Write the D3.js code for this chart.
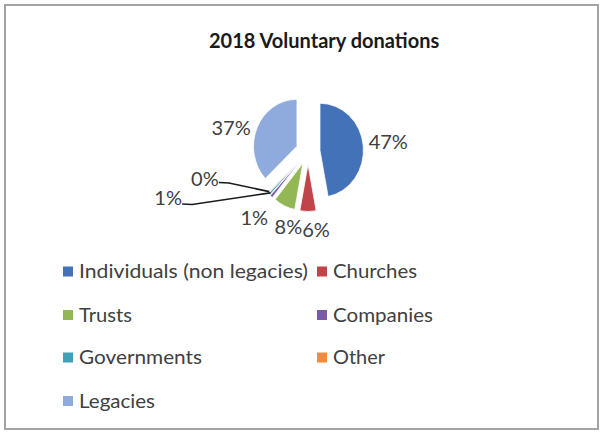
<!DOCTYPE html>
<html>
<head>
<meta charset="utf-8">
<script src="https://cdn.jsdelivr.net/npm/d3@7"></script>
<style>
  html, body { margin: 0; padding: 0; background: #fff; }
  svg { display: block; }
</style>
</head>
<body>
<svg id="chart" width="602" height="432"></svg>
<script>
// Donation sources and their shares (percent) for 2018
const categories = ["Individuals (non legacies)", "Churches", "Trusts", "Companies", "Governments", "Other", "Legacies"];
const shares = [47, 6, 8, 1, 0.7, 0.3, 37];
const colors = ["#4472B9", "#C0444A", "#94B755", "#7A5CA6", "#3FA0B8", "#F08C3A", "#8FAADC"];
const title = "2018 Voluntary donations";

const data = categories.map((c, i) => ({ name: c, value: shares[i], color: colors[i] }));

const svg = d3.select("#chart");
const W = 602, H = 432;

// chart frame
svg.append("rect")
  .attr("x", 5).attr("y", 5).attr("width", 593).attr("height", 424)
  .attr("fill", "#fff").attr("stroke", "#a3a3a3").attr("stroke-width", 2);

// title
svg.append("text")
  .attr("x", 209).attr("y", 48)
  .attr("font-family", "Lato, 'Open Sans', sans-serif")
  .attr("font-weight", "bold")
  .attr("font-size", 20)
  .attr("fill", "#1a1a1a")
  .text(title);

// pie geometry
const cx = 308, cy = 151.5, R = 47, sx = 0.925, explode = 13;
const pie = d3.pie().value(d => d.value).sort(null);
const arcs = pie(data);
const arc = d3.arc().innerRadius(0).outerRadius(R);

const mid = d => (d.startAngle + d.endAngle) / 2;
// point at radius r along the slice's middle angle, including the explosion shift
function slicePoint(d, r) {
  const a = mid(d);
  return [cx + sx * (explode + r) * Math.sin(a), cy - (explode + r) * Math.cos(a)];
}

const pieG = svg.append("g").attr("transform", `translate(${cx},${cy}) scale(${sx},1)`);
pieG.selectAll("path")
  .data(arcs)
  .join("path")
  .attr("transform", d => `translate(${explode * Math.sin(mid(d))},${-explode * Math.cos(mid(d))})`)
  .attr("d", arc)
  .attr("fill", d => d.data.color)
  .attr("stroke", "#fff")
  .attr("stroke-width", 0.8);

// data labels, nudged from the slice's outer edge
const labelNudge = {
  "Individuals (non legacies)": [25, -4.5],
  "Churches": [8, 18.5],
  "Trusts": [4, 21],
  "Companies": [-17, 21.5],
  "Governments": [-101, 3.6],
  "Other": [-63, -14.5],
  "Legacies": [-26, 0]
};
const leaderFrom = {
  "Governments": [14, 6],
  "Other": [14, 4]
};
const fmt = v => Math.round(v) + "%";

const labelG = svg.append("g")
  .attr("font-family", "Lato, 'Open Sans', sans-serif")
  .attr("font-size", 20)
  .attr("fill", "#404040");

arcs.forEach(d => {
  const p = slicePoint(d, R);
  const n = labelNudge[d.data.name];
  const lx = p[0] + n[0], ly = p[1] + n[1];
  const lf = leaderFrom[d.data.name];
  if (lf) {
    const sx0 = lx + lf[0], sy0 = ly + lf[1];
    svg.append("path")
      .attr("d", d3.line()([[sx0, sy0], [sx0 + 10, sy0 + 0.5], slicePoint(d, R - 2)]))
      .attr("fill", "none")
      .attr("stroke", "#1a1a1a")
      .attr("stroke-width", 1.6);
  }
  labelG.append("text")
    .attr("x", lx).attr("y", ly)
    .attr("text-anchor", "middle")
    .attr("dy", "0.36em")
    .text(fmt(d.data.value));
});

// legend: two columns, filled row by row
const legendCols = [63, 317];
const legendRows = [271.5, 315, 357.5, 401];
const legendWidths = [229, 84, 53, 100, 123, 52, 76];
const legG = svg.append("g")
  .attr("font-family", "Lato, 'Open Sans', sans-serif")
  .attr("font-size", 19)
  .attr("fill", "#404040");
data.forEach((d, i) => {
  const x = legendCols[i % 2], y = legendRows[Math.floor(i / 2)];
  legG.append("rect")
    .attr("x", x).attr("y", y - 5).attr("width", 10).attr("height", 10)
    .attr("fill", d.color);
  legG.append("text")
    .attr("x", x + 16).attr("y", y)
    .attr("dy", "0.35em")
    .attr("textLength", legendWidths[i])
    .attr("lengthAdjust", "spacingAndGlyphs")
    .text(d.name);
});
</script>
</body>
</html>
